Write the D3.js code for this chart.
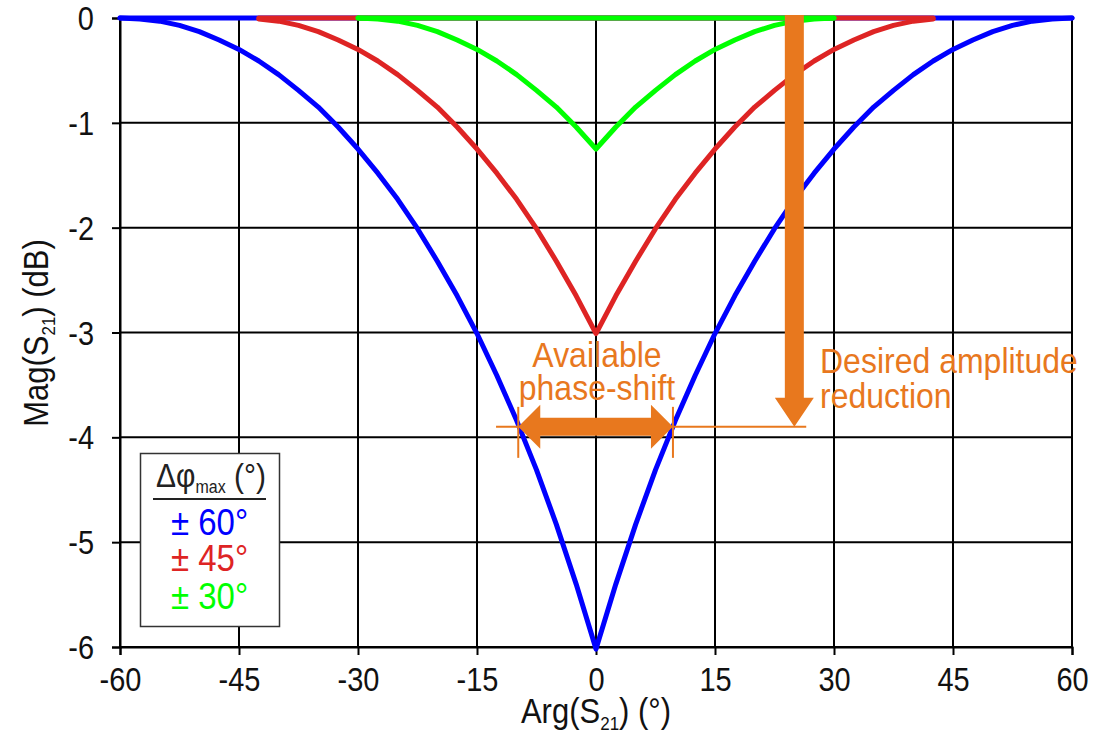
<!DOCTYPE html>
<html>
<head>
<meta charset="utf-8">
<script src="https://cdn.jsdelivr.net/npm/d3@7"></script>
<style>
  html, body { margin: 0; padding: 0; background: #fff; }
  svg { display: block; }
  text { font-family: "Liberation Sans", Arial, sans-serif; }
</style>
</head>
<body>
<svg id="chart" width="1106" height="737"></svg>
<script>
// ---- data ----
const xTicks = [-60, -45, -30, -15, 0, 15, 30, 45, 60];
const yTicks = [0, -1, -2, -3, -4, -5, -6];

const blueX = [-60,-57.5,-55,-52.5,-50,-47.5,-45,-42.5,-40,-37.5,-35,-32.5,-30,-27.5,-25,-22.5,-20,-17.5,-15,-12.5,-10,-7.5,-5,-2.5,0,
               2.5,5,7.5,10,12.5,15,17.5,20,22.5,25,27.5,30,32.5,35,37.5,40,42.5,45,47.5,50,52.5,55,57.5,60];
const blueY = [0,-0.01,-0.03,-0.07,-0.13,-0.21,-0.30,-0.41,-0.54,-0.69,-0.85,-1.04,-1.25,-1.48,-1.73,-2.01,-2.32,-2.65,-3.01,-3.41,-3.84,-4.31,-4.83,-5.40,-6.02,
               -5.40,-4.83,-4.31,-3.84,-3.41,-3.01,-2.65,-2.32,-2.01,-1.73,-1.48,-1.25,-1.04,-0.85,-0.69,-0.54,-0.41,-0.30,-0.21,-0.13,-0.07,-0.03,-0.01,0];

const redX = [-42.5,-40,-37.5,-35,-32.5,-30,-27.5,-25,-22.5,-20,-17.5,-15,-12.5,-10,-7.5,-5,-2.5,0,
              2.5,5,7.5,10,12.5,15,17.5,20,22.5,25,27.5,30,32.5,35,37.5,40,42.5];
const redY = [-0.01,-0.03,-0.07,-0.13,-0.21,-0.30,-0.41,-0.54,-0.69,-0.85,-1.04,-1.25,-1.48,-1.73,-2.01,-2.32,-2.65,-3.01,
              -2.65,-2.32,-2.01,-1.73,-1.48,-1.25,-1.04,-0.85,-0.69,-0.54,-0.41,-0.30,-0.21,-0.13,-0.07,-0.03,-0.01];

const greenX = [-30,-27.5,-25,-22.5,-20,-17.5,-15,-12.5,-10,-7.5,-5,-2.5,0,2.5,5,7.5,10,12.5,15,17.5,20,22.5,25,27.5,30];
const greenY = [0,-0.01,-0.03,-0.07,-0.13,-0.21,-0.30,-0.41,-0.54,-0.69,-0.85,-1.04,-1.25,-1.04,-0.85,-0.69,-0.54,-0.41,-0.30,-0.21,-0.13,-0.07,-0.03,-0.01,0];

const seriesNames = ["± 60°", "± 45°", "± 30°"];
const seriesColors = ["#0000FF", "#DE2424", "#00FF00"];

// annotation anchors (data units)
const annotLevel = -3.9;
const phaseLimits = [-9.8, 9.7];
const arrowX = 25;

// ---- drawing ----
const svg = d3.select("#chart");
const x = d3.scaleLinear().domain([-60, 60]).range([120, 1072]);
const y = d3.scaleLinear().domain([-6, 0]).range([647, 18]);
const FONT = 29;
const K = 1.12; // glyphs of the original font are taller than wide
const orange = "#E8781E";

function label(parent, px, py, size, anchor, fill, rotate) {
  return parent.append("text")
    .attr("transform", `translate(${px},${py})${rotate ? " rotate(" + rotate + ")" : ""} scale(1,${K})`)
    .attr("font-size", size).attr("text-anchor", anchor).attr("fill", fill);
}

// grid
const grid = svg.append("g");
grid.selectAll("line.v").data(xTicks).enter().append("line")
  .attr("x1", d => x(d)).attr("x2", d => x(d))
  .attr("y1", y(0)).attr("y2", y(-6) + 1)
  .attr("stroke", "#000").attr("stroke-width", 2);
grid.selectAll("line.h").data(yTicks).enter().append("line")
  .attr("x1", x(-60)).attr("x2", x(60))
  .attr("y1", d => y(d)).attr("y2", d => y(d))
  .attr("stroke", "#000").attr("stroke-width", 2);

// axes
const fmt = d => String(d);
const xAxis = svg.append("g").attr("transform", `translate(0,${y(-6)})`)
  .call(d3.axisBottom(x).tickValues(xTicks).tickSize(8).tickPadding(13).tickFormat(fmt));
const yAxis = svg.append("g").attr("transform", `translate(${x(-60)},0)`)
  .call(d3.axisLeft(y).tickValues(yTicks).tickSize(8).tickPadding(18).tickFormat(fmt));
[xAxis, yAxis].forEach(a => {
  a.select(".domain").attr("stroke", "#000").attr("stroke-width", 2);
  a.selectAll(".tick line").attr("stroke", "#000").attr("stroke-width", 2);
  a.selectAll(".tick text").attr("font-size", FONT).attr("fill", "#111")
    .style("font-family", '"Liberation Sans", Arial, sans-serif')
    .attr("x", 0).attr("y", 0).attr("dy", 0);
});
xAxis.selectAll(".tick text").attr("transform", `translate(0,44) scale(1,${K})`);
yAxis.selectAll(".tick text").attr("transform", `translate(-26,11.5) scale(1,${K})`);

// axis titles
const xt = label(svg, x(0), 723, 31, "middle", "#111");
xt.append("tspan").text("Arg(S");
xt.append("tspan").text("21").attr("font-size", 17).attr("dy", 6);
xt.append("tspan").text(") (°)").attr("dy", -6);

const yt = label(svg, 48, 333, 31, "middle", "#111", -90);
yt.append("tspan").text("Mag(S");
yt.append("tspan").text("21").attr("font-size", 17).attr("dy", 6);
yt.append("tspan").text(") (dB)").attr("dy", -6);

// curves
const line = d3.line().x(d => x(d[0])).y(d => y(d[1]));
const allSeries = [[blueX, blueY], [redX, redY], [greenX, greenY]];
allSeries.forEach(([xs, ys], i) => {
  const pts = xs.map((v, k) => [v, ys[k]]);
  const flat = [[xs[0], 0], [xs[xs.length - 1], 0]];
  svg.append("path").attr("d", line(flat)).attr("fill", "none")
    .attr("stroke", seriesColors[i]).attr("stroke-width", 5).attr("stroke-linecap", "round");
  svg.append("path").attr("d", line(pts)).attr("fill", "none")
    .attr("stroke", seriesColors[i]).attr("stroke-width", 5)
    .attr("stroke-linejoin", "round").attr("stroke-linecap", "round");
});

// annotations
const ann = svg.append("g");
const ly = y(annotLevel);
ann.append("line").attr("x1", x(-12.6)).attr("x2", x(26.5)).attr("y1", ly).attr("y2", ly)
  .attr("stroke", orange).attr("stroke-width", 2);
phaseLimits.forEach(p => {
  ann.append("line").attr("x1", x(p)).attr("x2", x(p)).attr("y1", ly - 20).attr("y2", ly + 31)
    .attr("stroke", orange).attr("stroke-width", 2);
});
// double-headed horizontal arrow
const xl = x(phaseLimits[0]), xr = x(phaseLimits[1]);
const hs = 9, hh = 22, hl = 22;
ann.append("path").attr("fill", orange).attr("d",
  `M${xl},${ly} L${xl + hl},${ly - hh} L${xl + hl},${ly - hs} L${xr - hl},${ly - hs} L${xr - hl},${ly - hh} L${xr},${ly}` +
  ` L${xr - hl},${ly + hh} L${xr - hl},${ly + hs} L${xl + hl},${ly + hs} L${xl + hl},${ly + hh} Z`);
// vertical arrow
const ax = x(arrowX), arrowTop = y(0) - 3;
const vs = 9.5, vh = 19.5, vl = 29;
ann.append("path").attr("fill", orange).attr("d",
  `M${ax - vs},${arrowTop} L${ax + vs},${arrowTop} L${ax + vs},${ly - vl} L${ax + vh},${ly - vl} L${ax},${ly} L${ax - vh},${ly - vl} L${ax - vs},${ly - vl} Z`);

label(ann, 597, 367, 32, "middle", orange).text("Available");
label(ann, 597, 400, 32, "middle", orange).text("phase-shift");
label(ann, 820, 373, 32, "start", orange).text("Desired amplitude");
label(ann, 820, 408, 32, "start", orange).text("reduction");

// legend
const lg = svg.append("g");
lg.append("rect").attr("x", 140.5).attr("y", 453.5).attr("width", 139).attr("height", 173)
  .attr("fill", "#fff").attr("stroke", "#333").attr("stroke-width", 1.5);
const lh = label(lg, 211, 487, 30, "middle", "#222");
lh.append("tspan").text("Δφ");
lh.append("tspan").text("max").attr("font-size", 16).attr("dy", 5);
lh.append("tspan").text(" (°)").attr("dy", -5);
lg.append("line").attr("x1", 153).attr("x2", 266).attr("y1", 499).attr("y2", 499)
  .attr("stroke", "#222").attr("stroke-width", 2);
const legY = [535, 571, 609];
seriesNames.forEach((n, i) => {
  label(lg, 171, legY[i], 33, "start", seriesColors[i]).text(n);
});
</script>
</body>
</html>
